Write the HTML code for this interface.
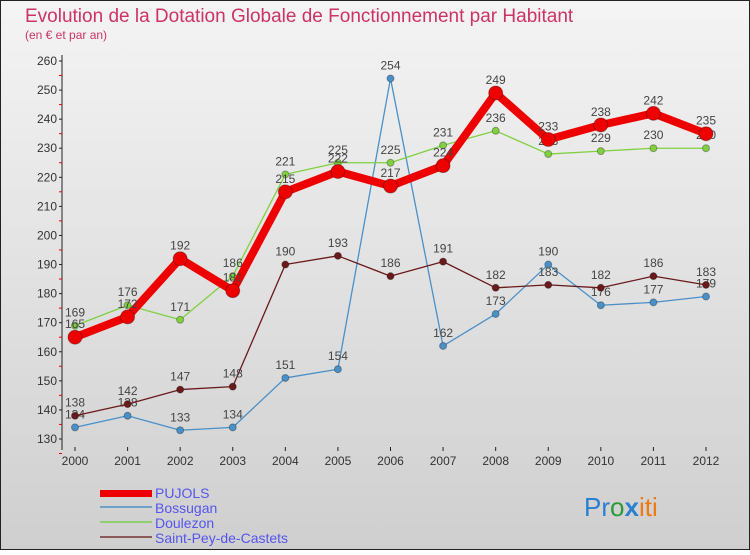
<!DOCTYPE html>
<html><head><meta charset="utf-8"><style>
body{margin:0;width:750px;height:550px;overflow:hidden;font-family:"Liberation Sans",sans-serif}
svg text{font-family:"Liberation Sans",sans-serif}
</style></head><body>
<svg id="c" width="750" height="550">
<defs><linearGradient id="bg" x1="0" y1="0" x2="0" y2="1"><stop offset="0" stop-color="#f4f4f4"/><stop offset="1" stop-color="#cfcfcf"/></linearGradient></defs>
<rect x="0.5" y="0.5" width="749" height="549" fill="url(#bg)" stroke="#222"/>
<text x="25" y="22" font-size="19" fill="#cc3366">Evolution de la Dotation Globale de Fonctionnement par Habitant</text>
<text x="25" y="39" font-size="12" fill="#cc3366">(en € et par an)</text>
<g id="axes"></g><g id="series"></g>
<g>
<rect x="100" y="490" width="52" height="7" fill="#e00"/>
<text x="155" y="498" font-size="14" fill="#5555ee">PUJOLS</text>
<rect x="100" y="506" width="52" height="2" fill="#6fa0c8"/>
<text x="155" y="513" font-size="14" fill="#5555ee">Bossugan</text>
<rect x="100" y="521" width="52" height="2" fill="#90d070"/>
<text x="155" y="528" font-size="14" fill="#5555ee">Doulezon</text>
<rect x="100" y="536" width="52" height="2" fill="#8b5a5a"/>
<text x="155" y="543" font-size="14" fill="#5555ee">Saint-Pey-de-Castets</text>
</g>
<text x="584" y="516" font-size="26"><tspan fill="#2a7fd0">Pr</tspan><tspan fill="#2a9a3a">o</tspan><tspan fill="#2a7fd0" font-weight="bold">x</tspan><tspan fill="#f07a10">i</tspan><tspan fill="#f07a10">ti</tspan></text>
</svg>
<script>
const years=[2000,2001,2002,2003,2004,2005,2006,2007,2008,2009,2010,2011,2012];
const pujols=[165,172,192,181,215,222,217,224,249,233,238,242,235];
const bossugan=[134,138,133,134,151,154,254,162,173,190,176,177,179];
const doulezon=[169,176,171,186,221,225,225,231,236,228,229,230,230];
const saintPey=[138,142,147,148,190,193,186,191,182,183,182,186,183];
const yTicks=[130,140,150,160,170,180,190,200,210,220,230,240,250,260];
const NS='http://www.w3.org/2000/svg';
function x(i){return 75+i*(706-75)/(years.length-1);}
function y(v){return 439-(v-130)*(439-61)/130;}
function mk(t,a,p){const e=document.createElementNS(NS,t);for(const k in a)e.setAttribute(k,a[k]);p.appendChild(e);return e;}
const ax=document.getElementById('axes'),sg=document.getElementById('series');
const yl=mk('line',{x1:62,y1:55,x2:62,y2:450,stroke:'#222'},ax);


yTicks.forEach(v=>{
 const t=mk('text',{x:57,y:y(v)+4,'font-size':12,'text-anchor':'end',fill:'#333'},ax);t.textContent=v;
 
 
 mk('line',{x1:59,x2:62,y1:y(v),y2:y(v),stroke:'#222'},ax);
 mk('line',{x1:59,x2:62,y1:y(v)+14.5,y2:y(v)+14.5,stroke:'#e00'},ax);
});
years.forEach((yr,i)=>{
 const t=mk('text',{x:x(i),y:465,'font-size':12,'text-anchor':'middle',fill:'#333'},ax);t.textContent=yr;
 
 
 mk('line',{x1:x(i),x2:x(i),y1:447,y2:451,stroke:'#222'},ax);
});
function draw(vals,color,w,r,name){
 const g=mk('g',{},sg);
 
 
 mk('polyline',{points:vals.map((v,i)=>x(i)+','+y(v)).join(' '),fill:'none',stroke:color,'stroke-width':w,'stroke-linejoin':'round'},g);
 vals.forEach((v,i)=>{
  const c=mk('circle',{cx:x(i),cy:y(v),r:r,fill:color,stroke:'rgba(0,0,0,0.3)'},g);
  
  
  const t=mk('text',{x:x(i),y:y(v)-9,'font-size':12,'text-anchor':'middle',fill:'#444'},g);t.textContent=v;
  
  
 });
}
draw(bossugan,'#4a90c8',1.3,3.5,'bossugan');
draw(saintPey,'#6a1a1a',1.3,3.5,'saint-pey');
draw(doulezon,'#80d040',1.3,3.5,'doulezon');
draw(pujols,'#ee0000',8,7,'pujols');
</script>
</body></html>
